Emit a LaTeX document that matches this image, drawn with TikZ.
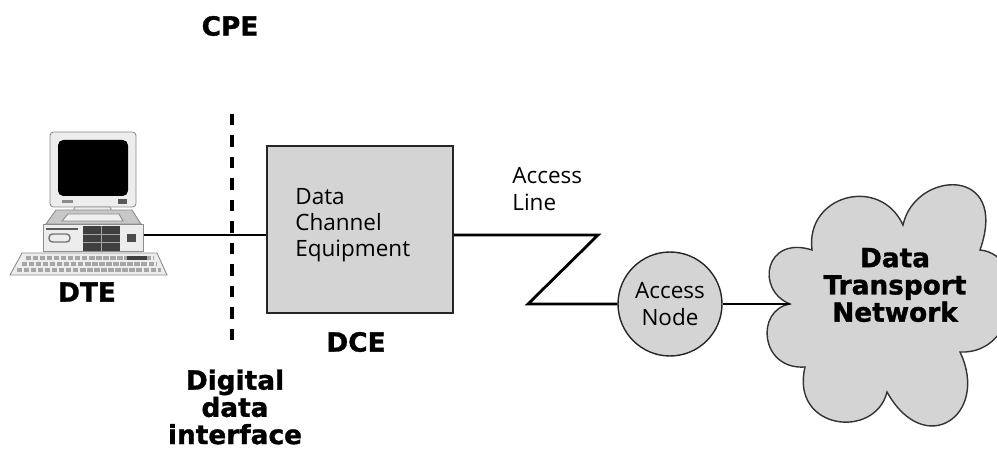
\documentclass[tikz,border=0pt]{standalone}
\usepackage{fontspec}
\setmainfont{Open Sans}
\newfontfamily\heavyfont{DejaVu Sans}[BoldFeatures={FakeBold=1.2}]
\usetikzlibrary{positioning}

\begin{document}
\begin{tikzpicture}[x=0.02cm, y=0.02cm, font=\fontsize{12.8}{14.9}\selectfont,
  wire/.style={line width=1.6pt},
  graybox/.style={draw=black!85, fill=black!17, line width=1pt},
  heavy/.style={font=\heavyfont\bfseries\fontsize{15}{15.5}\selectfont, align=center},
  pcpart/.style={draw=black!45, fill=black!7, line width=0.5pt},
  divider/.style={line width=2.2pt, dash pattern=on 0.23cm off 0.2cm}]
\useasboundingbox (0,0) rectangle (997,450);

% DTE: desktop computer
\filldraw[pcpart, rounded corners=2pt] (50,318) rectangle (136,243);
\fill[black, rounded corners=3pt] (58,310) rectangle (128,254);
\fill[black!45] (62,250) rectangle (73,247);
\fill[black!65] (118,251) rectangle (127,246);
\filldraw[pcpart] (75,243) -- (110,243) -- (112,239) -- (73,239) -- cycle;
\filldraw[pcpart, fill=black!22] (46,226) -- (56,240) -- (132,240) -- (141,226) -- cycle;
\filldraw[pcpart, fill=black!6] (62,229) -- (68,236) -- (119,236) -- (123,229) -- cycle;
\filldraw[pcpart] (43,226) rectangle (143,199);
\draw[black!65, line width=0.8pt] (46,221) -- (78,221);
\draw[black!55, rounded corners=2pt, line width=0.8pt] (49,216) rectangle (70,208);
\fill[black!75] (83,224) rectangle (120,199);
\draw[black!35] (83,216) -- (120,216) (83,208) -- (120,208) (101,224) -- (101,199);
\fill[black!70] (127,216) rectangle (136,208);
\filldraw[pcpart] (22,197) -- (157,197) -- (167,175) -- (10,175) -- cycle;
\foreach \y/\a/\b in {192/26/153, 186/22/157, 180/17/161}
  \draw[black!35, line width=2pt, dash pattern=on 3pt off 1pt] (\a,\y) -- (\b,\y);
\fill[black!75] (127,194) rectangle (147,190);
\coordinate (port) at (144,215);

% labels
\node[heavy] (dte) at (87,158) {DTE};
\node[heavy] (cpe) at (230,424) {CPE};
\node[heavy] (ddi) at (235,43) {Digital\\data\\interface};

% CPE boundary
\coordinate (divtop) at (232,336);
\coordinate (divbot) at (232,106);
\draw[divider] (divtop) -- (divbot);

% DCE
\node[graybox, minimum width=3.72cm, minimum height=3.34cm] (dce) at (360,220.5) {};
\node[anchor=west, align=left, inner sep=0pt] (dcetext) at (295,225) {Data\\Channel\\Equipment};
\node[heavy] (dcelabel) at (356,108) {DCE};

% access line and node
\node[anchor=west, align=left, inner sep=0pt] (acline) at (512,261) {Access\\Line};
\node[circle, graybox, line width=0.8pt, minimum size=2.08cm, inner sep=0pt, align=center] (acnode) at (670,146) {Access\\Node};
\coordinate (zig1) at (598,215);
\coordinate (zig2) at (528,146);

% transport network cloud
\coordinate (n1) at (790,146);
\coordinate (n2) at (812,200);
\coordinate (n3) at (903,225);
\coordinate (n4) at (980,200);
\coordinate (n5) at (960,98);
\coordinate (n6) at (887,58);
\coordinate (n7) at (805,83);
\filldraw[draw=black!80, fill=black!17, line width=0.8pt]
  (n1) .. controls (755,160) and (765,215) .. (n2)
       .. controls (805,255) and (880,275) .. (n3)
       .. controls (915,280) and (1010,285) .. (n4)
       .. controls (1030,195) and (1020,95) .. (n5)
       .. controls (990,35) and (925,-10) .. (n6)
       .. controls (875,10) and (790,20) .. (n7)
       .. controls (760,80) and (755,140) .. (n1) -- cycle;
\node[heavy] (net) at (895,165) {Data\\Transport\\Network};

% connections
\draw[wire] (port) -- (port -| dce.west);
\draw[wire] (port -| dce.east) -- (zig1) -- (zig2) -- (acnode.west);
\draw[wire] (acnode.east) -- (n1);
\end{tikzpicture}
\end{document}
